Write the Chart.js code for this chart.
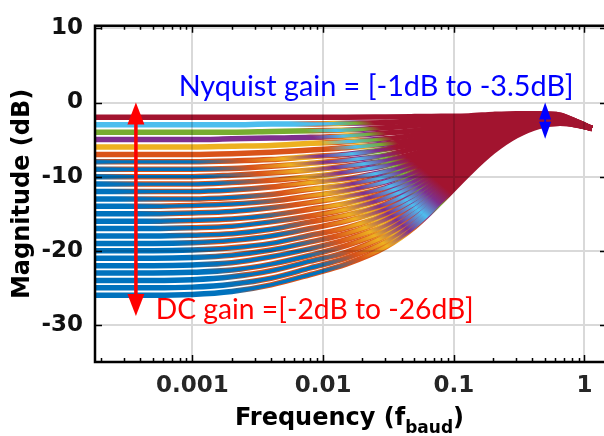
<!DOCTYPE html>
<html>
<head>
<meta charset="utf-8">
<script src="https://cdn.jsdelivr.net/npm/chart.js@4.4.1/dist/chart.umd.min.js"></script>
<style>
  html, body { margin: 0; padding: 0; background: #fff; }
  canvas { display: block; }
</style>
</head>
<body>
<canvas id="ctle" width="604" height="436"></canvas>
<script>
// frequency points (in f_baud), shared by every curve
const freq = [0.00018, 0.0005, 0.001, 0.002, 0.004, 0.008, 0.015, 0.03, 0.05, 0.08, 0.13, 0.2, 0.3, 0.45, 0.65, 0.85, 1.14];

// DC gain of each curve, dB
const dcGain = [-2, -3, -4, -5, -6, -7, -8, -9, -10, -11, -12, -13, -14, -15, -16, -17, -18, -19, -20, -21, -22, -23, -24, -25, -26];

// magnitude (dB) of each curve at the frequencies above, one row per DC gain
const magnitudeDb = [
  [-2, -2, -2, -2, -2, -2, -2, -1.95, -1.9, -1.85, -1.8, -1.6, -1.5, -1.5, -1.7, -2.5, -3.5],
  [-3, -3, -3, -3, -2.9, -2.9, -2.8, -2.7, -2.5, -2.3, -2.1, -1.8, -1.6, -1.5, -1.7, -2.5, -3.5],
  [-4, -4, -4, -4, -3.9, -3.8, -3.7, -3.4, -3.1, -2.8, -2.4, -2.0, -1.8, -1.6, -1.8, -2.5, -3.5],
  [-5, -5, -5, -4.9, -4.8, -4.7, -4.5, -4.1, -3.8, -3.3, -2.7, -2.2, -1.9, -1.7, -1.8, -2.6, -3.5],
  [-6, -6, -6, -5.9, -5.8, -5.5, -5.3, -4.9, -4.4, -3.8, -3.1, -2.4, -2.0, -1.7, -1.9, -2.6, -3.5],
  [-7, -7, -7, -6.9, -6.7, -6.4, -6.1, -5.6, -5.0, -4.3, -3.4, -2.6, -2.1, -1.8, -1.9, -2.6, -3.5],
  [-8, -8, -8, -7.9, -7.7, -7.3, -7.0, -6.3, -5.6, -4.7, -3.7, -2.9, -2.3, -1.9, -2.0, -2.6, -3.5],
  [-9, -9, -9, -8.9, -8.6, -8.2, -7.8, -7.1, -6.2, -5.2, -4.0, -3.1, -2.4, -2.0, -2.0, -2.6, -3.5],
  [-10, -10, -10, -9.8, -9.5, -9.1, -8.6, -7.8, -6.9, -5.7, -4.4, -3.3, -2.5, -2.0, -2.1, -2.7, -3.5],
  [-11, -11, -11, -10.8, -10.5, -10.0, -9.4, -8.5, -7.5, -6.2, -4.7, -3.5, -2.6, -2.1, -2.1, -2.7, -3.5],
  [-12, -12, -12, -11.8, -11.4, -10.8, -10.3, -9.3, -8.1, -6.7, -5.0, -3.7, -2.8, -2.2, -2.2, -2.7, -3.5],
  [-13, -13, -13, -12.8, -12.4, -11.7, -11.1, -10.0, -8.7, -7.1, -5.3, -3.9, -2.9, -2.3, -2.2, -2.7, -3.5],
  [-14, -14, -13.9, -13.7, -13.3, -12.6, -11.9, -10.7, -9.4, -7.6, -5.7, -4.1, -3.0, -2.3, -2.3, -2.8, -3.5],
  [-15, -15, -14.9, -14.7, -14.2, -13.5, -12.7, -11.5, -10.0, -8.1, -6.0, -4.3, -3.1, -2.4, -2.3, -2.8, -3.5],
  [-16, -16, -15.9, -15.7, -15.2, -14.4, -13.6, -12.2, -10.6, -8.6, -6.3, -4.5, -3.3, -2.5, -2.3, -2.8, -3.5],
  [-17, -17, -16.9, -16.7, -16.1, -15.3, -14.4, -12.9, -11.2, -9.1, -6.7, -4.7, -3.4, -2.5, -2.4, -2.8, -3.5],
  [-18, -18, -17.9, -17.7, -17.1, -16.1, -15.2, -13.7, -11.8, -9.6, -7.0, -4.9, -3.5, -2.6, -2.4, -2.8, -3.5],
  [-19, -19, -18.9, -18.6, -18.0, -17.0, -16.0, -14.4, -12.5, -10.0, -7.3, -5.1, -3.6, -2.7, -2.5, -2.9, -3.5],
  [-20, -20, -19.9, -19.6, -19.0, -17.9, -16.9, -15.1, -13.1, -10.5, -7.6, -5.4, -3.8, -2.8, -2.5, -2.9, -3.5],
  [-21, -21, -20.9, -20.6, -19.9, -18.8, -17.7, -15.8, -13.7, -11.0, -8.0, -5.6, -3.9, -2.8, -2.6, -2.9, -3.5],
  [-22, -22, -21.9, -21.6, -20.8, -19.7, -18.5, -16.6, -14.3, -11.5, -8.3, -5.8, -4.0, -2.9, -2.6, -2.9, -3.5],
  [-23, -23, -22.9, -22.6, -21.8, -20.6, -19.3, -17.3, -14.9, -12.0, -8.6, -6.0, -4.1, -3.0, -2.7, -2.9, -3.5],
  [-24, -24, -23.9, -23.5, -22.7, -21.4, -20.2, -18.0, -15.6, -12.4, -8.9, -6.2, -4.3, -3.1, -2.7, -3.0, -3.5],
  [-25, -25, -24.9, -24.5, -23.7, -22.3, -21.0, -18.8, -16.2, -12.9, -9.3, -6.4, -4.4, -3.1, -2.8, -3.0, -3.5],
  [-26, -26, -25.9, -25.5, -24.6, -23.2, -21.8, -19.5, -16.8, -13.4, -9.6, -6.6, -4.5, -3.2, -2.8, -3.0, -3.5]
];

const xTicks = [0.001, 0.01, 0.1, 1];
const yTicks = [-30, -20, -10, 0, 10];

// matlab default line colours
const BLUE = '#0072BD', ORANGE = '#D95319', YELLOW = '#EDB120', PURPLE = '#7E2F8E',
      GREEN = '#77AC30', CYAN = '#4DBEEE', RED = '#A2142F';
const topColors = [RED, CYAN, GREEN, PURPLE, YELLOW, ORANGE];

function baseColor(i) {
  return i < topColors.length ? topColors[i] : BLUE;
}

// colour bands run diagonally across the fan: gradient along direction DIR,
// zero where the curves turn dark red (about 0.055 f_baud, -7.6 dB)
const DIR = [0.644, -0.765];
const U0 = -320, U1 = 150;

function gradientFor(stops) {
  return (c) => {
    const chart = c.chart;
    if (!chart.chartArea) return stops[0][1];
    const cx = chart.scales.x.getPixelForValue(0.055);
    const cy = chart.scales.y.getPixelForValue(-7.6);
    const g = chart.ctx.createLinearGradient(
      cx + U0 * DIR[0], cy + U0 * DIR[1], cx + U1 * DIR[0], cy + U1 * DIR[1]);
    stops.forEach(([u, col]) => g.addColorStop((u - U0) / (U1 - U0), col));
    return g;
  };
}

function underStops(i) {
  const b = baseColor(i);
  if (i === 0) return [[U0, RED], [U1, RED]];
  if (i < 6) return [[U0, b], [-56, b], [-40, ORANGE], [-27, YELLOW], [-15, PURPLE], [-4, RED], [U1, RED]];
  return [[U0, b], [-225, b], [-195, ORANGE], [-100, ORANGE], [-75, YELLOW], [-55, ORANGE],
          [-38, PURPLE], [-22, GREEN], [-8, RED], [U1, RED]];
}

function overStops(i) {
  const b = baseColor(i);
  if (i === 0) return [[U0, RED], [U1, RED]];
  if (i < 6) return [[U0, b], [-52, b], [-32, CYAN], [-14, GREEN], [-2, RED], [U1, RED]];
  return [[U0, BLUE], [-150, BLUE], [-115, ORANGE], [-88, YELLOW], [-62, PURPLE], [-40, CYAN],
          [-22, PURPLE], [-6, RED], [U1, RED]];
}

const datasets = [];
magnitudeDb.forEach((row, i) => {
  const pts = row.map((m, j) => ({ x: freq[j], y: m }));
  const common = {
    label: dcGain[i] + ' dB',
    data: pts,
    pointRadius: 0,
    fill: false,
    cubicInterpolationMode: 'monotone',
    borderCapStyle: 'butt',
    borderJoinStyle: 'round'
  };
  datasets.push(Object.assign({}, common, { order: 2, borderWidth: 5.5, borderColor: gradientFor(underStops(i)) }));
  datasets.push(Object.assign({}, common, { order: 1, borderWidth: 3.4, borderColor: gradientFor(overStops(i)) }));
});

function fitFont(ctx, text, family, width) {
  ctx.font = '100px ' + family;
  return 100 * width / ctx.measureText(text).width;
}

function doubleArrow(ctx, px, yTop, yBot, color, shaft, headLen, headW) {
  ctx.fillStyle = color;
  ctx.fillRect(px - shaft / 2, yTop + headLen - 1, shaft, yBot - yTop - 2 * headLen + 2);
  ctx.beginPath();
  ctx.moveTo(px, yTop);
  ctx.lineTo(px - headW / 2, yTop + headLen);
  ctx.lineTo(px + headW / 2, yTop + headLen);
  ctx.closePath();
  ctx.fill();
  ctx.beginPath();
  ctx.moveTo(px, yBot);
  ctx.lineTo(px - headW / 2, yBot - headLen);
  ctx.lineTo(px + headW / 2, yBot - headLen);
  ctx.closePath();
  ctx.fill();
}

const frameAndNotes = {
  id: 'frameAndNotes',
  afterDraw(chart) {
    const { ctx, chartArea: a, scales: { x, y } } = chart;

    // grid, drawn over the curves and see-through like matlab
    ctx.save();
    ctx.beginPath();
    ctx.rect(a.left, a.top, a.right - a.left, a.bottom - a.top);
    ctx.clip();
    ctx.strokeStyle = 'rgba(0,0,0,0.15)';
    ctx.lineWidth = 2;
    ctx.beginPath();
    xTicks.forEach(v => {
      const px = Math.round(x.getPixelForValue(v));
      ctx.moveTo(px, a.top); ctx.lineTo(px, a.bottom);
    });
    yTicks.forEach(v => {
      const py = Math.round(y.getPixelForValue(v));
      ctx.moveTo(a.left, py); ctx.lineTo(a.right, py);
    });
    ctx.stroke();
    ctx.restore();

    // box (right side falls outside the picture) and inward ticks
    ctx.save();
    ctx.strokeStyle = '#000';
    ctx.lineWidth = 2.5;
    ctx.beginPath();
    ctx.moveTo(a.right + 2, a.top); ctx.lineTo(a.left, a.top);
    ctx.lineTo(a.left, a.bottom); ctx.lineTo(a.right + 2, a.bottom);
    ctx.stroke();
    ctx.lineWidth = 1.5;
    ctx.beginPath();
    for (let d = -4; d <= 0; d++) {
      for (let m = 1; m <= 9; m++) {
        const v = m * Math.pow(10, d);
        if (v < x.min || v > x.max) continue;
        const px = Math.round(x.getPixelForValue(v)) + 0.5;
        const len = m === 1 ? 7 : 4;
        ctx.moveTo(px, a.bottom); ctx.lineTo(px, a.bottom - len);
        ctx.moveTo(px, a.top); ctx.lineTo(px, a.top + len);
      }
    }
    yTicks.forEach(v => {
      const py = Math.round(y.getPixelForValue(v)) + 0.5;
      ctx.moveTo(a.left, py); ctx.lineTo(a.left + 7, py);
      ctx.moveTo(a.right + 2, py); ctx.lineTo(a.right - 4, py);
    });
    ctx.stroke();

    // x axis title with subscript
    const main = 'bold 24px "DejaVu Sans"';
    const sub = 'bold 17px "DejaVu Sans"';
    ctx.font = main;
    const w1 = ctx.measureText('Frequency (f').width;
    const w3 = ctx.measureText(')').width;
    ctx.font = sub;
    const w2 = ctx.measureText('baud').width;
    let tx = (a.left + a.right) / 2 - (w1 + w2 + w3) / 2;
    const ty = 425;
    ctx.fillStyle = '#000';
    ctx.textBaseline = 'alphabetic';
    ctx.textAlign = 'left';
    ctx.font = main;
    ctx.fillText('Frequency (f', tx, ty);
    tx += w1;
    ctx.font = sub;
    ctx.fillText('baud', tx, ty + 8);
    tx += w2;
    ctx.font = main;
    ctx.fillText(')', tx, ty);

    // arrows
    doubleArrow(ctx, x.getPixelForValue(0.00037), y.getPixelForValue(0), y.getPixelForValue(-28.8), '#FF0000', 3.5, 22, 17);
    doubleArrow(ctx, x.getPixelForValue(0.5), y.getPixelForValue(0), y.getPixelForValue(-4.9), '#0000FF', 2, 17, 12);

    // notes
    const t1 = 'Nyquist gain = [-1dB to -3.5dB]';
    const t2 = 'DC gain =[-2dB to -26dB]';
    let fs = fitFont(ctx, t1, 'Lato', 395);
    ctx.font = fs + 'px Lato';
    ctx.fillStyle = '#0000FF';
    ctx.fillText(t1, x.getPixelForValue(0.000786), y.getPixelForValue(0.82));
    fs = fitFont(ctx, t2, 'Lato', 318);
    ctx.font = fs + 'px Lato';
    ctx.fillStyle = '#FF0000';
    ctx.fillText(t2, x.getPixelForValue(0.000525), y.getPixelForValue(-29.25));
    ctx.restore();
  }
};

const tickFont = { family: 'DejaVu Sans', weight: 'bold', size: 23 };

new Chart(document.getElementById('ctle').getContext('2d'), {
  type: 'line',
  data: { datasets },
  options: {
    responsive: false,
    animation: false,
    events: [],
    layout: { padding: { top: 15, left: 0, right: 0, bottom: 0 } },
    plugins: { legend: { display: false }, tooltip: { enabled: false } },
    scales: {
      x: {
        type: 'logarithmic',
        min: 0.00018,
        max: 1.41,
        afterBuildTicks: (s) => { s.ticks = xTicks.map(v => ({ value: v })); },
        afterFit: (s) => { s.height = 74; },
        grid: { display: false, drawTicks: false },
        border: { display: false },
        ticks: {
          autoSkip: false,
          maxRotation: 0,
          padding: 10,
          color: '#262626',
          font: tickFont,
          callback: (v) => String(v)
        }
      },
      y: {
        min: -35,
        max: 10.35,
        afterBuildTicks: (s) => { s.ticks = yTicks.map(v => ({ value: v })); },
        afterFit: (s) => { s.width = 95; },
        grid: { display: false, drawTicks: false },
        border: { display: false },
        ticks: { padding: 12, color: '#111', font: tickFont, callback: (v) => String(v) },
        title: {
          display: true,
          text: 'Magnitude (dB)',
          color: '#000',
          font: { family: 'DejaVu Sans', weight: 'bold', size: 24 },
          padding: { top: 8, bottom: 0 }
        }
      }
    }
  },
  plugins: [frameAndNotes]
});
</script>
</body>
</html>
